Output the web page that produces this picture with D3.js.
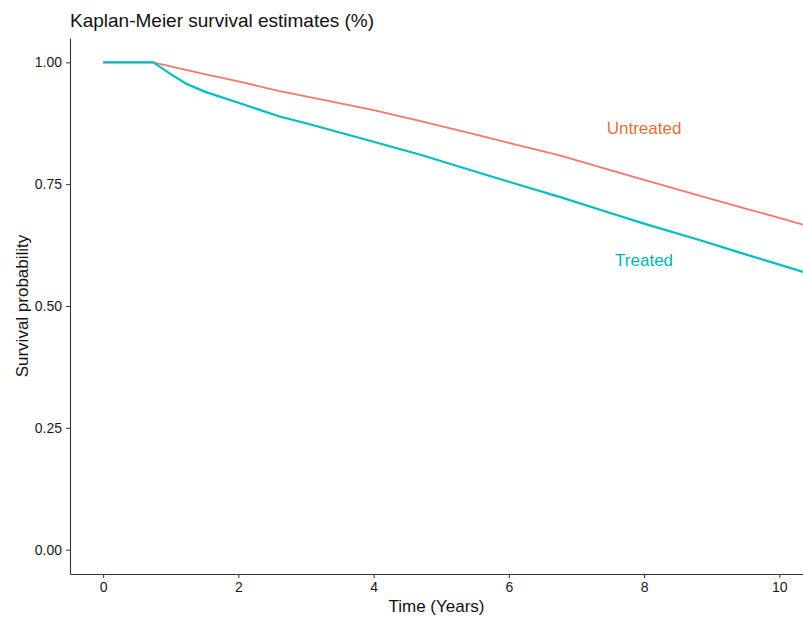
<!DOCTYPE html>
<html>
<head>
<meta charset="utf-8">
<script src="https://cdn.jsdelivr.net/npm/d3@7"></script>
<style>
  body { margin: 0; background: #fff; }
  svg { font-family: Arial, "Liberation Sans", sans-serif; }
</style>
</head>
<body>
<div class="chart"></div>
<script>
// Kaplan-Meier estimates
const untreatedTime = [0, 0.74, 1.5, 2, 2.61, 3, 4, 4.68, 5.5, 6, 6.75, 7.5, 8, 8.83, 9.5, 10, 10.35];
const untreatedSurv = [1, 1, 0.976, 0.961, 0.941, 0.930, 0.902, 0.880, 0.852, 0.835, 0.809, 0.779, 0.759, 0.726, 0.700, 0.681, 0.667];

const treatedTime = [0, 0.74, 1.0, 1.23, 1.5, 2, 2.61, 3, 3.5, 4, 4.68, 5.5, 6, 6.75, 7.5, 8, 8.83, 9.5, 10, 10.35];
const treatedSurv = [1, 1, 0.976, 0.956, 0.940, 0.917, 0.889, 0.875, 0.856, 0.837, 0.811, 0.776, 0.755, 0.724, 0.691, 0.669, 0.635, 0.606, 0.585, 0.570];

const xTicks = [0, 2, 4, 6, 8, 10];
const yTicks = [0, 0.25, 0.5, 0.75, 1];

const width = 803, height = 617;
const margin = { top: 38, right: 0, bottom: 43, left: 70 };

const svg = d3.select(".chart")
  .append("svg")
  .attr("width", width)
  .attr("height", height);

const x = d3.scaleLinear()
  .domain([-0.49, 10.35])
  .range([margin.left, width - margin.right]);

const y = d3.scaleLinear()
  .domain([-0.05, 1.05])
  .range([height - margin.bottom, margin.top]);

// axes
const xAxis = svg.append("g")
  .attr("transform", `translate(0,${height - margin.bottom})`)
  .call(d3.axisBottom(x).tickValues(xTicks).tickSize(4).tickPadding(4).tickSizeOuter(0));

const yAxis = svg.append("g")
  .attr("transform", `translate(${margin.left},0)`)
  .call(d3.axisLeft(y).tickValues(yTicks).tickFormat(d3.format(".2f")).tickSize(4).tickPadding(4).tickSizeOuter(0));

[xAxis, yAxis].forEach(a => {
  a.select(".domain").attr("stroke", "#333").attr("stroke-width", 1.1);
  a.selectAll(".tick line").attr("stroke", "#333");
  a.selectAll(".tick text").attr("fill", "#1a1a1a").style("font-size", "14px");
});

// curves
const line = d3.line()
  .x(d => x(d[0]))
  .y(d => y(d[1]));

svg.append("path")
  .datum(untreatedTime.map((t, i) => [t, untreatedSurv[i]]))
  .attr("fill", "none")
  .attr("stroke", "#F8766D")
  .attr("stroke-width", 1.8)
  .attr("d", line);

svg.append("path")
  .datum(treatedTime.map((t, i) => [t, treatedSurv[i]]))
  .attr("fill", "none")
  .attr("stroke", "#00BFC4")
  .attr("stroke-width", 2.2)
  .attr("d", line);

// group labels
svg.append("text")
  .attr("x", x(8.0))
  .attr("y", y(0.865))
  .attr("dy", "0.35em")
  .attr("text-anchor", "middle")
  .attr("fill", "#E0703A")
  .style("font-size", "17px")
  .text("Untreated");

svg.append("text")
  .attr("x", x(8.0))
  .attr("y", y(0.595))
  .attr("dy", "0.35em")
  .attr("text-anchor", "middle")
  .attr("fill", "#00B3B8")
  .style("font-size", "17px")
  .text("Treated");

// titles
svg.append("text")
  .attr("x", margin.left)
  .attr("y", 27)
  .attr("fill", "#111")
  .style("font-size", "19px")
  .text("Kaplan-Meier survival estimates (%)");

svg.append("text")
  .attr("x", (margin.left + width - margin.right) / 2)
  .attr("y", 612)
  .attr("text-anchor", "middle")
  .attr("fill", "#111")
  .style("font-size", "17px")
  .text("Time (Years)");

svg.append("text")
  .attr("transform", `translate(28,${(margin.top + height - margin.bottom) / 2}) rotate(-90)`)
  .attr("text-anchor", "middle")
  .attr("fill", "#111")
  .style("font-size", "17px")
  .text("Survival probability");
</script>
</body>
</html>
